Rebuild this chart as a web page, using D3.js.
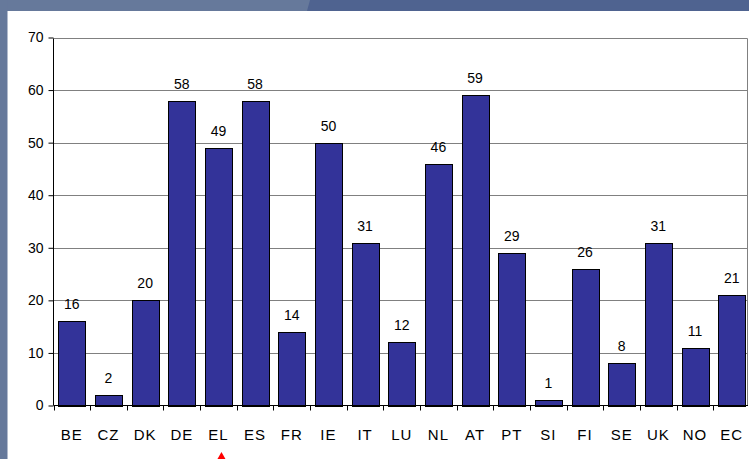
<!DOCTYPE html>
<html lang="en">
<head>
    <meta charset="UTF-8">
    <title>Bar chart</title>
    <script src="https://d3js.org/d3.v7.min.js"></script>
    <style>
        body { margin: 0; }
        text { font-family: "Liberation Sans", Arial, sans-serif; }
    </style>
</head>
<body>
<script>
    var countries = ["BE","CZ","DK","DE","EL","ES","FR","IE","IT","LU","NL","AT","PT","SI","FI","SE","UK","NO","EC"];
    var values = [16, 2, 20, 58, 49, 58, 14, 50, 31, 12, 46, 59, 29, 1, 26, 8, 31, 11, 21];
    var yTicks = [0, 10, 20, 30, 40, 50, 60, 70];
    var marked = "EL";

    var W = 749, H = 459;
    var plotLeft = 53.5, plotRight = 750, plotTop = 37.5, plotBottom = 405.5;

    var svg = d3.select("body").append("svg")
        .attr("width", W)
        .attr("height", H);

    // background frame
    svg.append("rect").attr("width", W).attr("height", H).attr("fill", "#ffffff");
    svg.append("rect").attr("x", 0).attr("y", 0).attr("width", W).attr("height", 11).attr("fill", "#4f6390");
    svg.append("path").attr("d", "M0,0 L310,0 L307,11 L0,11 Z").attr("fill", "#66799b");
    svg.append("rect").attr("x", 0).attr("y", 0).attr("width", 7.5).attr("height", H).attr("fill", "#66799b");

    var x = d3.scaleBand().domain(countries).range([plotLeft, plotRight]).paddingInner(0.27).paddingOuter(0.135);
    var xb = d3.scaleBand().domain(countries).range([plotLeft, plotRight]);
    var y = d3.scaleLinear().domain([0, 70]).range([plotBottom, plotTop]);

    // gridlines
    svg.append("g")
        .selectAll("line")
        .data(yTicks.slice(1))
        .enter().append("line")
        .attr("x1", plotLeft).attr("x2", 747.5)
        .attr("y1", function(d) { return Math.round(y(d)) + 0.5; })
        .attr("y2", function(d) { return Math.round(y(d)) + 0.5; })
        .attr("stroke", "#808080");
    svg.append("line")
        .attr("x1", 747.5).attr("x2", 747.5)
        .attr("y1", Math.round(y(70)) + 0.5).attr("y2", plotBottom)
        .attr("stroke", "#808080");

    // bars
    svg.append("g")
        .selectAll("rect")
        .data(values)
        .enter().append("rect")
        .attr("x", function(d, i) { return Math.round(x(countries[i])) + 0.5; })
        .attr("y", function(d) { return Math.round(y(d)) + 0.5; })
        .attr("width", Math.round(x.bandwidth()))
        .attr("height", function(d) { return Math.round(y(0)) - Math.round(y(d)); })
        .attr("fill", "#333399")
        .attr("stroke", "#000000");

    // value labels
    svg.append("g")
        .selectAll("text")
        .data(values)
        .enter().append("text")
        .attr("x", function(d, i) { return xb(countries[i]) + xb.bandwidth() / 2; })
        .attr("y", function(d) { return y(d) - 12; })
        .attr("text-anchor", "middle")
        .style("font-size", "14px")
        .attr("fill", "#000")
        .text(function(d) { return d; });

    // y axis
    var yAxis = svg.append("g")
        .attr("transform", "translate(" + plotLeft + ",0)")
        .call(d3.axisLeft(y).tickValues(yTicks).tickSize(5).tickPadding(5));
    yAxis.selectAll("text").style("font-size", "14px").attr("fill", "#000")
        .style("font-family", "'Liberation Sans', Arial, sans-serif");
    yAxis.selectAll("line, path").attr("stroke", "#000");
    yAxis.select(".domain").attr("d", "M0," + plotBottom + "V" + (Math.round(y(70)) + 0.5));

    // x axis
    var xAxis = svg.append("g")
        .attr("transform", "translate(0," + plotBottom + ")");
    xAxis.append("line")
        .attr("x1", plotLeft).attr("x2", 748)
        .attr("y1", 0).attr("y2", 0)
        .attr("stroke", "#000");
    xAxis.selectAll(".tk")
        .data(countries)
        .enter().append("line")
        .attr("class", "tk")
        .attr("x1", function(d) { return Math.round(xb(d)) + 0.5; })
        .attr("x2", function(d) { return Math.round(xb(d)) + 0.5; })
        .attr("y1", 0).attr("y2", 5)
        .attr("stroke", "#000");
    xAxis.selectAll(".lbl")
        .data(countries)
        .enter().append("text")
        .attr("class", "lbl")
        .attr("x", function(d) { return xb(d) + xb.bandwidth() / 2; })
        .attr("y", 34)
        .attr("text-anchor", "middle")
        .style("font-size", "15px")
        .style("letter-spacing", "1px")
        .attr("fill", "#000")
        .text(function(d) { return d; });

    // red marker under EL
    var mx = xb(marked) + xb.bandwidth() / 2 + 3;
    svg.append("path")
        .attr("d", "M" + (mx - 4) + ",459 L" + mx + ",452 L" + (mx + 4) + ",459 Z")
        .attr("fill", "#ff0000");
</script>
</body>
</html>
